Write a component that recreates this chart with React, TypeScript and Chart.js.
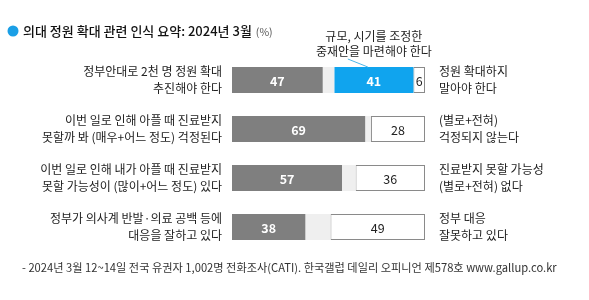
import React, { useEffect, useRef } from "react";
import { Chart, registerables } from "chart.js";

Chart.register(...registerables);

const leftLabels: string[][] = [
  ["정부안대로 2천 명 정원 확대", "추진해야 한다"],
  ["이번 일로 인해 아플 때 진료받지", "못할까 봐 (매우+어느 정도) 걱정된다"],
  ["이번 일로 인해 내가 아플 때 진료받지", "못할 가능성이 (많이+어느 정도) 있다"],
  ["정부가 의사계 반발·의료 공백 등에", "대응을 잘하고 있다"],
];
const rightLabels: string[][] = [
  ["정원 확대하지", "말아야 한다"],
  ["(별로+전혀)", "걱정되지 않는다"],
  ["진료받지 못할 가능성", "(별로+전혀) 없다"],
  ["정부 대응", "잘못하고 있다"],
];
const positive = [47, 69, 57, 38];
const undecided = [6, 3, 7, 13];
const adjust = [41, 0, 0, 0];
const negative = [6, 28, 36, 49];

const titleText = "의대 정원 확대 관련 인식 요약: 2024년 3월";
const unitText = "(%)";
const adjustNote = ["규모, 시기를 조정한", "중재안을 마련해야 한다"];
const footnote =
  "- 2024년 3월 12~14일 전국 유권자 1,002명 전화조사(CATI). 한국갤럽 데일리 오피니언 제578호 www.gallup.co.kr";

const FONT = '"Noto Sans CJK KR", "Noto Sans", sans-serif';

export default function App() {
  const ref = useRef<HTMLCanvasElement | null>(null);

  useEffect(() => {
    document.body.style.margin = "0";
    const canvas = ref.current;
    if (!canvas) return;

    const overlay = {
      id: "overlay",
      afterDraw(chart: any) {
        const ctx = chart.ctx as CanvasRenderingContext2D;
        ctx.save();
        // title
        ctx.fillStyle = "#1a9fe6";
        ctx.beginPath();
        ctx.arc(13, 31, 5.5, 0, Math.PI * 2);
        ctx.fill();
        ctx.fillStyle = "#111";
        ctx.font = `500 13px ${FONT}`;
        ctx.textBaseline = "middle";
        ctx.textAlign = "left";
        ctx.fillText(titleText, 23, 31);
        const tw = ctx.measureText(titleText).width;
        ctx.fillStyle = "#555";
        ctx.font = `10.5px ${FONT}`;
        ctx.fillText(unitText, 23 + tw + 4, 32);

        // footnote
        ctx.fillStyle = "#333";
        ctx.font = `11.2px ${FONT}`;
        ctx.fillText(footnote, 22, 268);

        // value labels
        const colors = ["#ffffff", "", "#ffffff", "#222222"];
        const fonts = [`bold 12.5px ${FONT}`, "", `bold 12.5px ${FONT}`, `12.5px ${FONT}`];
        chart.data.datasets.forEach((ds: any, di: number) => {
          if (di === 1) return;
          const meta = chart.getDatasetMeta(di);
          meta.data.forEach((el: any, i: number) => {
            const v = ds.data[i];
            if (!v) return;
            const cx = (el.x + el.base) / 2;
            ctx.fillStyle = colors[di];
            ctx.font = fonts[di];
            ctx.textAlign = "center";
            ctx.textBaseline = "middle";
            ctx.fillText(String(v), cx, el.y + 1);
          });
        });

        // annotation for adjust segment
        const am = chart.getDatasetMeta(2).data[0] as any;
        if (am) {
          const cx = (am.x + am.base) / 2;
          const top = am.y - am.height / 2;
          ctx.strokeStyle = "#4db6e8";
          ctx.lineWidth = 1;
          ctx.beginPath();
          ctx.moveTo(cx - 6, top);
          ctx.lineTo(cx - 26, top - 8);
          ctx.stroke();
          ctx.fillStyle = "#222";
          ctx.font = `12px ${FONT}`;
          ctx.textAlign = "center";
          ctx.fillText(adjustNote[0], cx, top - 31);
          ctx.fillText(adjustNote[1], cx, top - 16);
        }
        ctx.restore();
      },
    };

    const chart = new Chart(canvas, {
      type: "bar",
      data: {
        labels: leftLabels as any,
        datasets: [
          { label: "positive", data: positive, backgroundColor: "#7f7f7f", borderWidth: 0 },
          { label: "undecided", data: undecided, backgroundColor: "#efefef", borderWidth: 0 },
          { label: "adjust", data: adjust, backgroundColor: "#10a4ee", borderWidth: 0 },
          {
            label: "negative",
            data: negative,
            backgroundColor: "#ffffff",
            borderColor: "#8a8a8a",
            borderWidth: 1,
            borderSkipped: false,
          },
        ],
      },
      options: {
        indexAxis: "y",
        responsive: true,
        maintainAspectRatio: false,
        animation: false,
        events: [],
        layout: { padding: { top: 55.5, bottom: 48.5, left: 0, right: 0 } },
        datasets: { bar: { barPercentage: 0.53, categoryPercentage: 1 } },
        plugins: { legend: { display: false }, tooltip: { enabled: false } },
        scales: {
          x: { stacked: true, min: 0, max: 100, display: false },
          y: {
            stacked: true,
            position: "left",
            grid: { display: false, drawTicks: false },
            border: { display: false },
            ticks: {
              padding: 10,
              color: "#222",
              font: { family: FONT, size: 12, lineHeight: 1.4 },
              autoSkip: false,
            },
            afterFit: (s: any) => {
              s.width = 232;
            },
          },
          y2: {
            type: "category",
            labels: rightLabels as any,
            position: "right",
            offset: true,
            grid: { display: false, drawTicks: false },
            border: { display: false },
            ticks: {
              padding: 14,
              color: "#222",
              font: { family: FONT, size: 12, lineHeight: 1.45 },
              autoSkip: false,
            },
            afterFit: (s: any) => {
              s.width = 164;
            },
          },
        } as any,
      },
      plugins: [overlay],
    });

    return () => chart.destroy();
  }, []);

  return (
    <div style={{ width: 589, height: 300, position: "relative", background: "#fff" }}>
      <canvas ref={ref} />
    </div>
  );
}
